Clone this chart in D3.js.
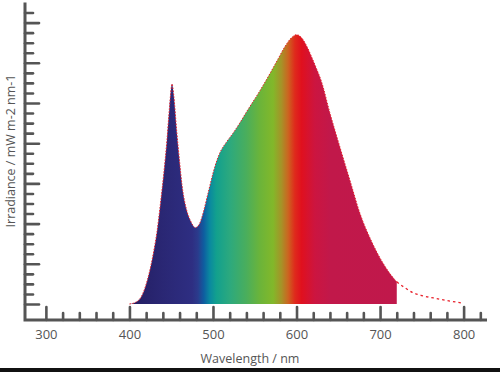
<!DOCTYPE html>
<html>
<head>
<meta charset="utf-8">
<script src="https://cdn.jsdelivr.net/npm/d3@7"></script>
<style>
  body { margin: 0; background: #fff; }
  text { font-family: "Open Sans", sans-serif; fill: #555; }
</style>
</head>
<body>
<script>
// spectrum (arbitrary irradiance units)
let wavelengths = [400, 408, 414, 419, 424, 429, 433, 437, 441, 445, 448, 451, 453, 456.6, 460, 463, 468, 473, 479, 484, 487, 494, 502, 508, 516, 524, 532, 540, 556, 568, 578, 586, 594, 600, 606, 612, 618, 624, 630, 640, 652, 664, 676, 690, 704, 712, 720]
let irradiance = [0, 0.2, 0.7, 1.7, 3.2, 5.2, 7.2, 9.9, 12.9, 16.4, 19.6, 21.9, 20.8, 17.2, 14.2, 11.8, 9.5, 8.3, 7.6, 8.0, 8.7, 11.0, 13.6, 15.0, 16.1, 17.0, 18.0, 19.1, 21.2, 22.9, 24.4, 25.6, 26.5, 26.8, 26.5, 25.7, 24.6, 23.4, 22.1, 19.0, 15.6, 12.3, 9.0, 6.2, 4.0, 3.0, 2.2]

// dotted tail past the filled part
let tailWavelengths = [720, 730, 740, 752, 764, 780, 798]
let tailIrradiance = [2.2, 1.6, 1.1, 0.8, 0.6, 0.35, 0.1]

let majorTicks = [300, 400, 500, 600, 700, 800]
let xTitle = "Wavelength / nm"
let yTitle = "Irradiance / mW m-2 nm-1"

// colour of the fill along the wavelength
let stopNm = [400, 440, 475, 482, 489, 496, 504, 520, 540, 556, 572, 582, 590, 598, 606, 622, 640, 720]
let stopColor = ["#231d62", "#2a2774", "#2e2e82", "#2b3b8c", "#0e5da0", "#0a88a0", "#12a08e", "#2ca97e", "#4aae5c", "#6bb43a", "#82b82a", "#a69228", "#cc6420", "#df2a1c", "#e0101e", "#cc1540", "#c1184a", "#c0184b"]

let width = 500
let height = 372

let svg = d3.select('body')
    .append('svg')
    .attr('width', width)
    .attr('height', height)

let xScale = d3.scaleLinear()
    .domain([275, 828])
    .range([25, 487])

let yScale = d3.scaleLinear()
    .domain([0, 30])
    .range([304, 2.5])

let axisY = 320
let axisColor = "#555"

let spectrum = wavelengths.map((w, i) => ({ w: w, v: irradiance[i] }))
let tail = tailWavelengths.map((w, i) => ({ w: w, v: tailIrradiance[i] }))

// gradient
let grad = svg.append("defs").append("linearGradient")
    .attr("id", "spec")
    .attr("gradientUnits", "userSpaceOnUse")
    .attr("x1", xScale(stopNm[0]))
    .attr("x2", xScale(stopNm[stopNm.length - 1]))
    .attr("y1", 0).attr("y2", 0)

grad.selectAll("stop")
    .data(stopNm)
    .join("stop")
    .attr("offset", d => (d - stopNm[0]) / (stopNm[stopNm.length - 1] - stopNm[0]))
    .attr("stop-color", (d, i) => stopColor[i])

let area = d3.area()
    .x(d => xScale(d.w))
    .y0(yScale(0))
    .y1(d => yScale(d.v))
    .curve(d3.curveMonotoneX)

let line = d3.line()
    .x(d => xScale(d.w))
    .y(d => yScale(d.v))
    .curve(d3.curveMonotoneX)

svg.append("path")
    .datum(spectrum)
    .attr("d", area)
    .attr("fill", "url(#spec)")

svg.append("path")
    .datum(spectrum)
    .attr("d", line)
    .attr("fill", "none")
    .attr("stroke", "#e8202a")
    .attr("stroke-width", 1)
    .attr("stroke-dasharray", "1.5,1.5")

svg.append("path")
    .datum(tail)
    .attr("d", line)
    .attr("fill", "none")
    .attr("stroke", "#e8202a")
    .attr("stroke-width", 1.3)
    .attr("stroke-dasharray", "2.5,3")

// x axis: minor and major ticks pointing up
let xMinor = d3.range(300, 821, 20).filter(d => d % 100 != 0)

let gxMinor = svg.append("g")
    .attr("transform", `translate(0, ${axisY})`)
    .call(d3.axisBottom(xScale).tickValues(xMinor).tickSize(-7).tickFormat(""))

let gxMajor = svg.append("g")
    .attr("transform", `translate(0, ${axisY})`)
    .call(d3.axisBottom(xScale).tickValues(majorTicks).tickSize(-13).tickPadding(10))

// y axis: ticks pointing right, no labels
let yMinor = d3.range(1, 30).filter(d => d % 4 != 0)
let yMajor = d3.range(0, 30, 4)

let gyMinor = svg.append("g")
    .attr("transform", `translate(25, 0)`)
    .call(d3.axisLeft(yScale).tickValues(yMinor).tickSize(-8).tickFormat(""))

let gyMajor = svg.append("g")
    .attr("transform", `translate(25, 0)`)
    .call(d3.axisLeft(yScale).tickValues(yMajor).tickSize(-14).tickFormat(""))

svg.selectAll(".domain").remove()
svg.selectAll(".tick line")
    .attr("stroke", axisColor)
    .attr("stroke-width", 2.6)
    .attr("stroke-linecap", "round")
svg.selectAll(".tick text")
    .attr("font-size", 13)
    .attr("font-family", "Open Sans, sans-serif")
    .attr("fill", axisColor)

// thick spines
svg.append("path")
    .attr("d", `M25,${yScale(30)}V${axisY}H${xScale(828)}`)
    .attr("fill", "none")
    .attr("stroke", axisColor)
    .attr("stroke-width", 3)

// titles
svg.append("text")
    .attr("x", 250)
    .attr("y", 363)
    .attr("text-anchor", "middle")
    .attr("font-size", 12.5)
    .text(xTitle)

svg.append("text")
    .attr("transform", "translate(15, 151) rotate(-90)")
    .attr("text-anchor", "middle")
    .attr("font-size", 12.5)
    .text(yTitle)

// dark strip along the bottom edge
svg.append("rect")
    .attr("x", 0).attr("y", 368)
    .attr("width", width).attr("height", 4)
    .attr("fill", "#111")
</script>
</body>
</html>
